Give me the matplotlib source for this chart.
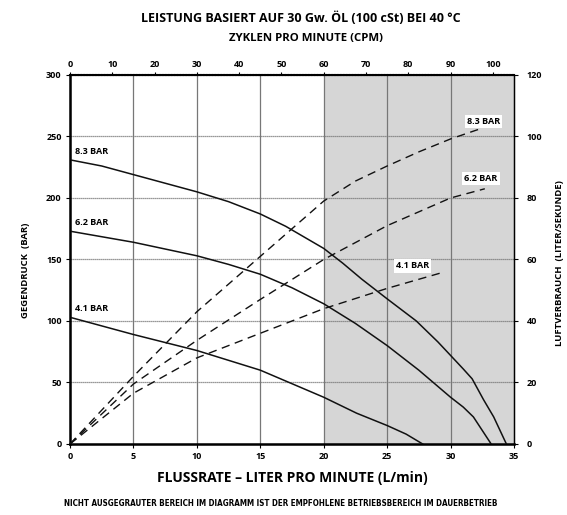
import numpy as np
import matplotlib.pyplot as plt
from matplotlib import font_manager

# --- data ---
# outlet pressure (bar) vs flow rate (L/min)
flow_83 = [0, 2.5, 5, 7.5, 10, 12.5, 15, 17, 18, 20, 21.5, 23, 25, 27.3, 29, 30, 31, 31.7, 32.6, 33.4, 34.4]
pres_83 = [231, 226, 219, 212, 205, 197, 187, 177, 171, 159, 147, 134, 118, 100, 83, 72, 61, 53, 36, 22, 0]
flow_62 = [0, 5, 10, 12.5, 15, 17.5, 20, 22.5, 25, 27.5, 30, 31, 31.8, 32.5, 33.2]
pres_62 = [173, 164, 153, 146, 138, 127, 114, 98, 80, 60, 38, 30, 22, 11, 0]
flow_41 = [0, 5, 10, 12.5, 15, 17.5, 20, 22.6, 25, 26.5, 27.8]
pres_41 = [103, 89, 76, 68, 60, 49, 38, 25, 15, 8, 0]

# air consumption (liter/second) vs flow rate
air_flow_83 = [0, 5, 10, 15, 17.5, 20, 22.5, 25, 27.5, 30, 32.2]
air_83 = [0, 22, 43, 61, 70, 79, 85.5, 90.4, 95, 99.2, 102.3]
air_flow_62 = [0, 5, 10, 15, 20, 25, 30, 32.7]
air_62 = [0, 19.5, 33.7, 47, 60, 71, 80, 83]
air_flow_41 = [0, 5, 10, 15, 20, 25, 29.3]
air_41 = [0, 16.5, 28, 36, 44, 50.6, 55.7]

labels = ["8.3 BAR", "6.2 BAR", "4.1 BAR"]

FONT = 'Open Sans'
names = {f.name for f in font_manager.fontManager.ttflist}
narrow = 'Liberation Sans Narrow' if 'Liberation Sans Narrow' in names else 'DejaVu Sans'

fig = plt.figure(figsize=(5.67, 5.15), dpi=100)
ax = fig.add_axes([0.1235, 0.1379, 0.783, 0.7165])

ax.set_xlim(0, 35)
ax.set_ylim(0, 300)

# grayed-out area (not recommended for continuous duty)
ax.axvspan(20, 35, facecolor='#d6d6d6', edgecolor='none', zorder=0)

for x in [5, 10, 15, 20, 25, 30]:
    ax.axvline(x, color='#777777', lw=0.9, zorder=1)
for y in [50, 100, 150, 200, 250]:
    ax.axhline(y, color='#777777', lw=0.9, ls=(0, (1, 0.6)), zorder=1)

for fx, py in [(flow_83, pres_83), (flow_62, pres_62), (flow_41, pres_41)]:
    ax.plot(fx, py, color='#111111', lw=1.1, zorder=3)

lbl_font = dict(fontsize=6.5, fontweight='bold', family=FONT)
ax.text(0.4, 238, labels[0], va='center', **lbl_font)
ax.text(0.4, 180, labels[1], va='center', **lbl_font)
ax.text(0.4, 110, labels[2], va='center', **lbl_font)

ax.set_xticks(range(0, 36, 5))
ax.set_yticks(range(0, 301, 50))
ax.tick_params(axis='both', length=3, width=0.8, labelsize=6.5, pad=3)
for t in ax.get_xticklabels() + ax.get_yticklabels():
    t.set_fontweight('bold')
    t.set_family(FONT)

ax.spines['left'].set_linewidth(1.8)
ax.spines['bottom'].set_linewidth(1.8)
ax.spines['top'].set_linewidth(1.5)
ax.spines['top'].set_linestyle((0, (1, 0.4)))
ax.spines['right'].set_linewidth(1.0)

ax.set_xlabel("FLUSSRATE – LITER PRO MINUTE (L/min)", fontsize=10,
              fontweight='bold', family=FONT, labelpad=7)
ax.set_ylabel("GEGENDRUCK  (BAR)", fontsize=6.8, fontweight='bold', family=FONT)
ax.yaxis.set_label_coords(-0.09, 0.47)

# right axis: air consumption
ax2 = ax.twinx()
ax2.set_ylim(0, 120)
ax2.set_yticks(range(0, 121, 20))
dash = (0, (6, 4))
for fx, ay in [(air_flow_83, air_83), (air_flow_62, air_62), (air_flow_41, air_41)]:
    ax2.plot(fx, ay, color='#111111', lw=1.0, ls=dash, zorder=3)

box = dict(facecolor='white', edgecolor='none', pad=1.5)
ax2.text(32.6, 105, labels[0], ha='center', va='center', bbox=box, **lbl_font)
ax2.text(32.4, 86.4, labels[1], ha='center', va='center', bbox=box, **lbl_font)
ax2.text(27.0, 57.9, labels[2], ha='center', va='center', bbox=box, **lbl_font)

ax2.tick_params(axis='y', length=3, width=0.8, labelsize=6.5, pad=6)
for t in ax2.get_yticklabels():
    t.set_fontweight('bold')
    t.set_family(FONT)
ax2.set_ylabel("LUFTVERBRAUCH  (LITER/SEKUNDE)", fontsize=6.8, fontweight='bold',
               family=FONT)
ax2.yaxis.set_label_coords(1.093, 0.49)

# top axis: cycles per minute
top = ax.secondary_xaxis('top', functions=(lambda x: x * 3, lambda c: c / 3))
top.set_xticks(range(0, 101, 10))
top.tick_params(length=2, width=0.8, labelsize=6.5, pad=2)
for t in top.get_xticklabels():
    t.set_fontweight('bold')
    t.set_family(FONT)
top.spines['top'].set_visible(False)

fig.text(0.53, 0.965, "LEISTUNG BASIERT AUF 30 Gw. ÖL (100 cSt) BEI 40 °C",
         ha='center', va='center', fontsize=9, fontweight='bold', family=FONT)
fig.text(0.54, 0.925, "ZYKLEN PRO MINUTE (CPM)", ha='center', va='center',
         fontsize=8.2, fontweight='bold', family=FONT)

note = fig.text(0.495, 0.023,
                "NICHT AUSGEGRAUTER BEREICH IM DIAGRAMM IST DER EMPFOHLENE BETRIEBSBEREICH IM DAUERBETRIEB",
                ha='center', va='center', fontsize=6.5, fontweight='bold',
                family=narrow, fontstretch='condensed')
# fit the footnote to about the width it has in the original
fig.canvas.draw()
w = note.get_window_extent().width
note.set_fontsize(6.5 * 435 / w)

fig.savefig("out.png", dpi=100)
